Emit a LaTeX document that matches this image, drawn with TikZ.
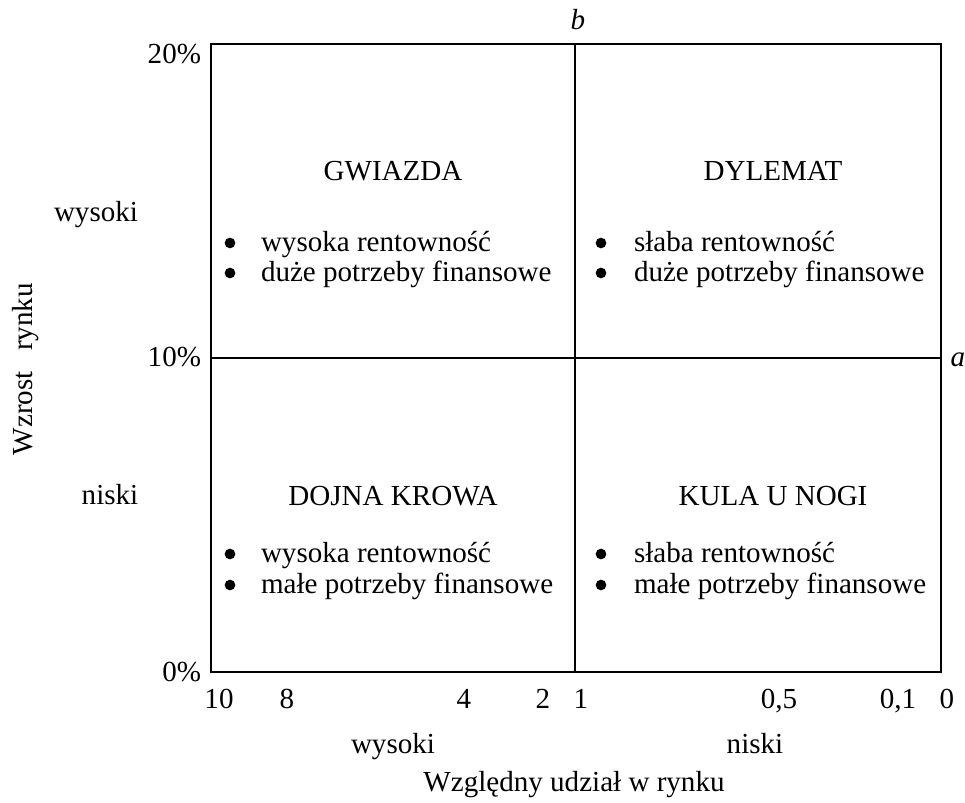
\documentclass[tikz,border=0pt]{standalone}
\usepackage{fontspec}
\setmainfont{Liberation Serif}
\begin{document}
\begin{tikzpicture}[x=0.75pt,y=-0.75pt,
  every node/.style={inner sep=0pt,outer sep=0pt,font=\fontsize{21.8}{26}\selectfont,
    text height=16pt,text depth=4pt},
  lbl/.style={anchor=center},
  ylbl/.style={anchor=east},
  bul/.style={circle,fill=black,minimum size=8pt,inner sep=0pt,text height=,text depth=},
  itm/.style={anchor=west},
  frame/.style={line width=1.1pt}]
\useasboundingbox (0,0) rectangle (965,803);
% frame and cross lines
\coordinate (tl) at (211,44);
\coordinate (br) at (941,672);
\coordinate (mt) at (575,44);
\coordinate (mb) at (575,672);
\coordinate (ml) at (211,358);
\coordinate (mr) at (941,358);
\draw[frame] (tl) rectangle (br);
\draw[frame] (mt) -- (mb);
\draw[frame] (ml) -- (mr);
% axis letters
\node[lbl] (b) at (578,22) {\itshape b};
\node[lbl] (a) at (958,358) {\itshape a};
% y-axis labels
\node[ylbl] (y20) at (201,55) {20\%};
\node[ylbl] (y10) at (201,358) {10\%};
\node[ylbl] (y0) at (201,673) {0\%};
\node[lbl] (yhi) at (96,213) {wysoki};
\node[lbl] (ylo) at (110,496) {niski};
\node[lbl,rotate=90] (ytitle) at (24,369) {Wzrost\hspace{0.7em}rynku};
% x-axis labels
\node[lbl] (x10) at (219,700) {10};
\node[lbl] (x8) at (287,700) {8};
\node[lbl] (x4) at (464,700) {4};
\node[lbl] (x2) at (543,700) {2};
\node[lbl] (x1) at (581,700) {1};
\node[lbl] (x05) at (779,700) {0,5};
\node[lbl] (x01) at (898,700) {0,1};
\node[lbl] (x0) at (947,700) {0};
\node[lbl] (xhi) at (393,745) {wysoki};
\node[lbl] (xlo) at (755,745) {niski};
\node[lbl] (xtitle) at (574,783) {Względny udział w rynku};
% quadrant titles
\node[lbl] (q1) at (393,172) {GWIAZDA};
\node[lbl] (q2) at (773,172) {DYLEMAT};
\node[lbl] (q3) at (393,497) {DOJNA KROWA};
\node[lbl] (q4) at (773,497) {KULA U NOGI};
% bullets GWIAZDA
\node[bul] (b1a) at (230,243) {};
\node[itm] (t1a) at (261,243) {wysoka rentowność};
\node[bul] (b1b) at (230,273) {};
\node[itm] (t1b) at (261,273) {duże potrzeby finansowe};
% bullets DYLEMAT
\node[bul] (b2a) at (601,243) {};
\node[itm] (t2a) at (634,243) {słaba rentowność};
\node[bul] (b2b) at (601,273) {};
\node[itm] (t2b) at (634,273) {duże potrzeby finansowe};
% bullets DOJNA KROWA
\node[bul] (b3a) at (230,554) {};
\node[itm] (t3a) at (261,554) {wysoka rentowność};
\node[bul] (b3b) at (230,585) {};
\node[itm] (t3b) at (261,585) {małe potrzeby finansowe};
% bullets KULA U NOGI
\node[bul] (b4a) at (601,554) {};
\node[itm] (t4a) at (634,554) {słaba rentowność};
\node[bul] (b4b) at (601,585) {};
\node[itm] (t4b) at (634,585) {małe potrzeby finansowe};
\end{tikzpicture}
\end{document}
